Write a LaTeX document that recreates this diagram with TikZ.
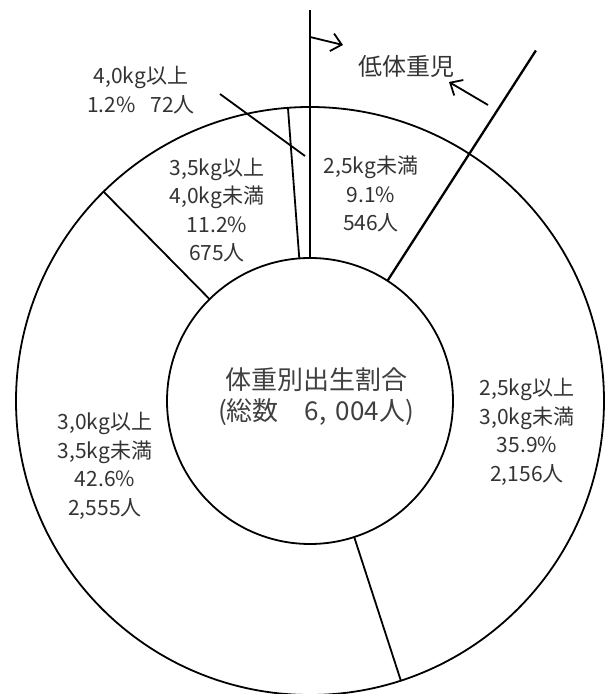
\documentclass[tikz,border=0pt]{standalone}
\usepackage{fontspec}
\setmainfont{Noto Sans CJK JP}
\usetikzlibrary{arrows.meta,calc}

\tikzstyle{ring} = [line width=1.8pt]
\tikzstyle{bound} = [line width=2.3pt]
\tikzstyle{lbl} = [
        align=center,
        text=black!80,
        font=\fontsize{21}{28.5}\selectfont
    ]
\tikzstyle{ttl} = [
        align=center,
        text=black!75,
        font=\fontsize{26}{31}\selectfont
    ]

\begin{document}
\begin{tikzpicture}[x=1pt, y=1pt, >={Straight Barb[length=10pt,width=18pt]}]
        \useasboundingbox (0,0) rectangle (613,694);
        \coordinate(cent) at (310,293);
        \draw[ring] (cent) circle (294);
        \draw[ring] (cent) circle (143);
        % low birth weight boundaries run past the ring
        \draw[bound] ($(cent)+(90:143)$) -- ($(cent)+(90:391)$);
        \draw[bound] ($(cent)+(57.2:143)$) -- ($(cent)+(57.2:417)$);
        \draw[ring] ($(cent)+(94.3:143)$) -- ($(cent)+(94.3:294)$);
        \draw[ring] ($(cent)+(134.6:143)$) -- ($(cent)+(134.6:294)$);
        \draw[ring] ($(cent)+(288:143)$) -- ($(cent)+(288:294)$);
        \node(titl) [ttl] at (316,297) {体重別出生割合\\(総数　6,\hspace{0.35em}004人)};
        \node(lowb) [lbl, font=\fontsize{24}{28}\selectfont] at (406,628) {低体重児};
        \node(w40p) [lbl] at (141,604) {4,0kg以上\\1.2\%\hspace{0.7em}72人};
        \node(w35p) [lbl] at (217,484) {3,5kg以上\\4,0kg未満\\11.2\%\\675人};
        \node(w25m) [lbl] at (371,500) {2,5kg未満\\9.1\%\\546人};
        \node(w25p) [lbl] at (527,262) {2,5kg以上\\3,0kg未満\\35.9\%\\2,156人};
        \node(w30p) [lbl] at (105,228) {3,0kg以上\\3,5kg未満\\42.6\%\\2,555人};
        \coordinate(arra) at (310,657);
        \coordinate(arrb) at (343,649);
        \coordinate(arrc) at (488,589);
        \coordinate(arrd) at (449,612);
        \coordinate(ldra) at (220,600);
        \coordinate(ldrb) at (305,538);
        \draw[->, ring] (arra) -- (arrb);
        \draw[->, ring] (arrc) -- (arrd);
        \draw[ring] (ldra) -- (ldrb);
    \end{tikzpicture}
\end{document}
